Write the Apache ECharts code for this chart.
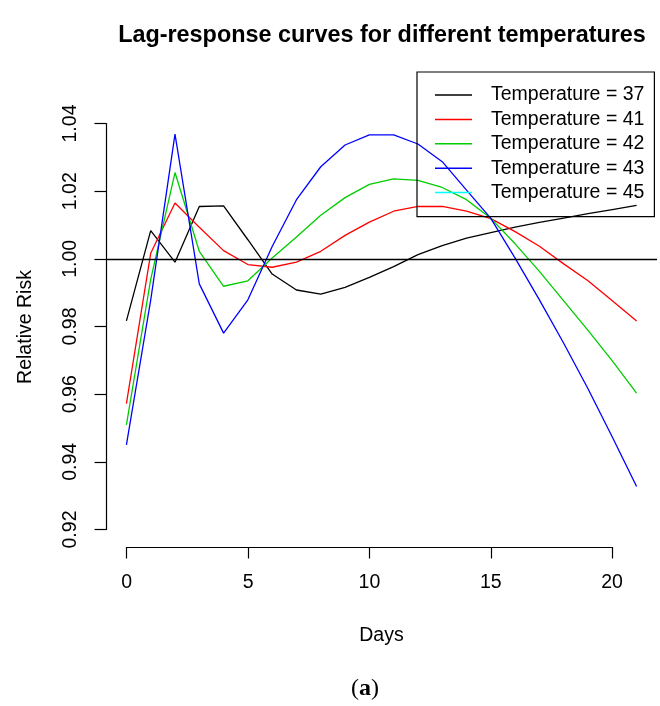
<!DOCTYPE html>
<html>
<head>
<meta charset="utf-8">
<script src="https://cdn.jsdelivr.net/npm/echarts@6/dist/echarts.min.js"></script>
<style>html,body{margin:0;padding:0;background:#fff}#c{width:660px;height:706px}</style>
</head>
<body>
<div id="c"></div>
<script>
var days = [0,1,2,3,4,5,6,7,8,9,10,11,12,13,14,15,16,17,18,19,20,21];
var temp37 = [0.9818,1.0084,0.9991,1.0155,1.0157,1.0057,0.9956,0.9909,0.9897,0.9917,0.9946,0.9978,1.0013,1.0040,1.0062,1.0078,1.0094,1.0108,1.0121,1.0134,1.0146,1.0158];
var temp41 = [0.9574,1.0017,1.0165,1.0094,1.0025,0.9984,0.9976,0.9991,1.0023,1.0070,1.0109,1.0141,1.0155,1.0155,1.0141,1.0119,1.0081,1.0038,0.9986,0.9936,0.9877,0.9818];
var temp42 = [0.9512,0.9940,1.0255,1.0023,0.9920,0.9936,1.0003,1.0065,1.0129,1.0181,1.0220,1.0236,1.0232,1.0211,1.0175,1.0120,1.0045,0.9964,0.9877,0.9790,0.9700,0.9605];
var temp43 = [0.9453,0.9879,1.0368,0.9927,0.9782,0.9880,1.0037,1.0175,1.0272,1.0336,1.0366,1.0366,1.0339,1.0287,1.0203,1.0120,1.0003,0.9880,0.9752,0.9618,0.9476,0.9330];
var temp45 = [];
var seriesNames = ['Temperature = 37','Temperature = 41','Temperature = 42','Temperature = 43','Temperature = 45'];
var seriesColors = ['#000000','#FF0000','#00CD00','#0000FF','#00FFFF'];
var xTicks = [0,5,10,15,20];
var yTicks = [0.92,0.94,0.96,0.98,1.00,1.02,1.04];
var refLine = 1.0;

var xLo = days[0], xHi = days[days.length-1];
var yLo = yTicks[0], yHi = yTicks[yTicks.length-1];
var xPad = 0.04*(xHi-xLo), yPad = 0.04*(yHi-yLo);
var F = 'Liberation Sans, Arial, Helvetica, sans-serif';
var FS = 19.5;

function pairs(v){ return v.map(function(y,i){ return [days[i], y]; }); }
var allData = [temp37, temp41, temp42, temp43, temp45];

var series = allData.map(function(d, i){
  var s = {
    name: seriesNames[i], type: 'line', xAxisIndex: 0, yAxisIndex: 0,
    data: pairs(d), symbol: 'none', showSymbol: false, smooth: false, animation: false,
    lineStyle: {color: seriesColors[i], width: 1.3}, itemStyle: {color: seriesColors[i]},
    z: 3
  };
  if (i === 0) {
    s.markLine = {silent: true, symbol: ['none','none'], label: {show: false},
      lineStyle: {color: '#000', width: 1.3, type: 'solid'},
      data: [{yAxis: refLine}], animation: false};
  }
  return s;
});

var chart = echarts.init(document.getElementById('c'), null, {renderer: 'canvas'});
chart.setOption({
  backgroundColor: '#fff',
  animation: false,
  title: [
    {text: 'Lag-response curves for different temperatures', left: 377, top: 19, textAlign: 'center',
     textStyle: {fontFamily: F, fontSize: 23.4, fontWeight: 'bold', color: '#000'}},
    {text: '{p|(}{a|a}{p|)}', left: 360, top: 672, textAlign: 'center',
     textStyle: {rich: {p: {fontFamily: 'Liberation Serif, DejaVu Serif, serif', fontSize: 24, fontWeight: 'normal', color: '#000'},
                        a: {fontFamily: 'Liberation Serif, DejaVu Serif, serif', fontSize: 24, fontWeight: 'bold', color: '#000'}}}}
  ],
  legend: {
    data: seriesNames.map(function(n){ return {name: n, icon: 'rect'}; }),
    orient: 'vertical', left: 417, top: 72,
    borderColor: '#000', borderWidth: 1.2, padding: [13, 10, 14, 18],
    itemWidth: 37, itemHeight: 1.5, itemGap: 4.4,
    textStyle: {fontFamily: F, fontSize: FS, color: '#000', lineHeight: 20, padding: [0,0,0,14]},
    selectedMode: false
  },
  grid: [
    {left: 106, right: 3, top: 107, bottom: 159},
    {left: 126.7, right: 47.9, top: 107, bottom: 159},
    {left: 106, right: 3, top: 123.5, bottom: 176.5}
  ],
  xAxis: [
    {gridIndex: 0, type: 'value', min: xLo - xPad, max: xHi + xPad,
     name: 'Days', nameLocation: 'middle', nameGap: 79,
     nameTextStyle: {fontFamily: F, fontSize: FS, color: '#000'},
     axisLine: {show: false}, axisTick: {show: false}, axisLabel: {show: false}, splitLine: {show: false}},
    {gridIndex: 1, type: 'value', min: xTicks[0], max: xTicks[xTicks.length-1], interval: 5,
     axisLine: {show: true, lineStyle: {color: '#000', width: 1.2}},
     axisTick: {show: true, length: 11.5, lineStyle: {color: '#000', width: 1.2}},
     axisLabel: {show: true, margin: 26, fontFamily: F, fontSize: FS, color: '#000'},
     splitLine: {show: false}},
    {gridIndex: 2, type: 'value', show: false, min: 0, max: 1}
  ],
  yAxis: [
    {gridIndex: 0, type: 'value', min: yLo - yPad, max: yHi + yPad,
     name: 'Relative Risk', nameLocation: 'middle', nameGap: 70, nameRotate: 90,
     nameTextStyle: {fontFamily: F, fontSize: FS, color: '#000'},
     axisLine: {show: false}, axisTick: {show: false}, axisLabel: {show: false}, splitLine: {show: false}},
    {gridIndex: 1, type: 'value', show: false, min: 0, max: 1},
    {gridIndex: 2, type: 'value', min: yLo, max: yHi, interval: 0.02,
     axisLine: {show: true, lineStyle: {color: '#000', width: 1.2}},
     axisTick: {show: true, length: 11.5, lineStyle: {color: '#000', width: 1.2}},
     axisLabel: {show: true, rotate: 90, margin: 25, fontFamily: F, fontSize: FS, color: '#000',
                 formatter: function(v){ return v.toFixed(2); }},
     splitLine: {show: false}}
  ],
  series: series
});
</script>
</body>
</html>
